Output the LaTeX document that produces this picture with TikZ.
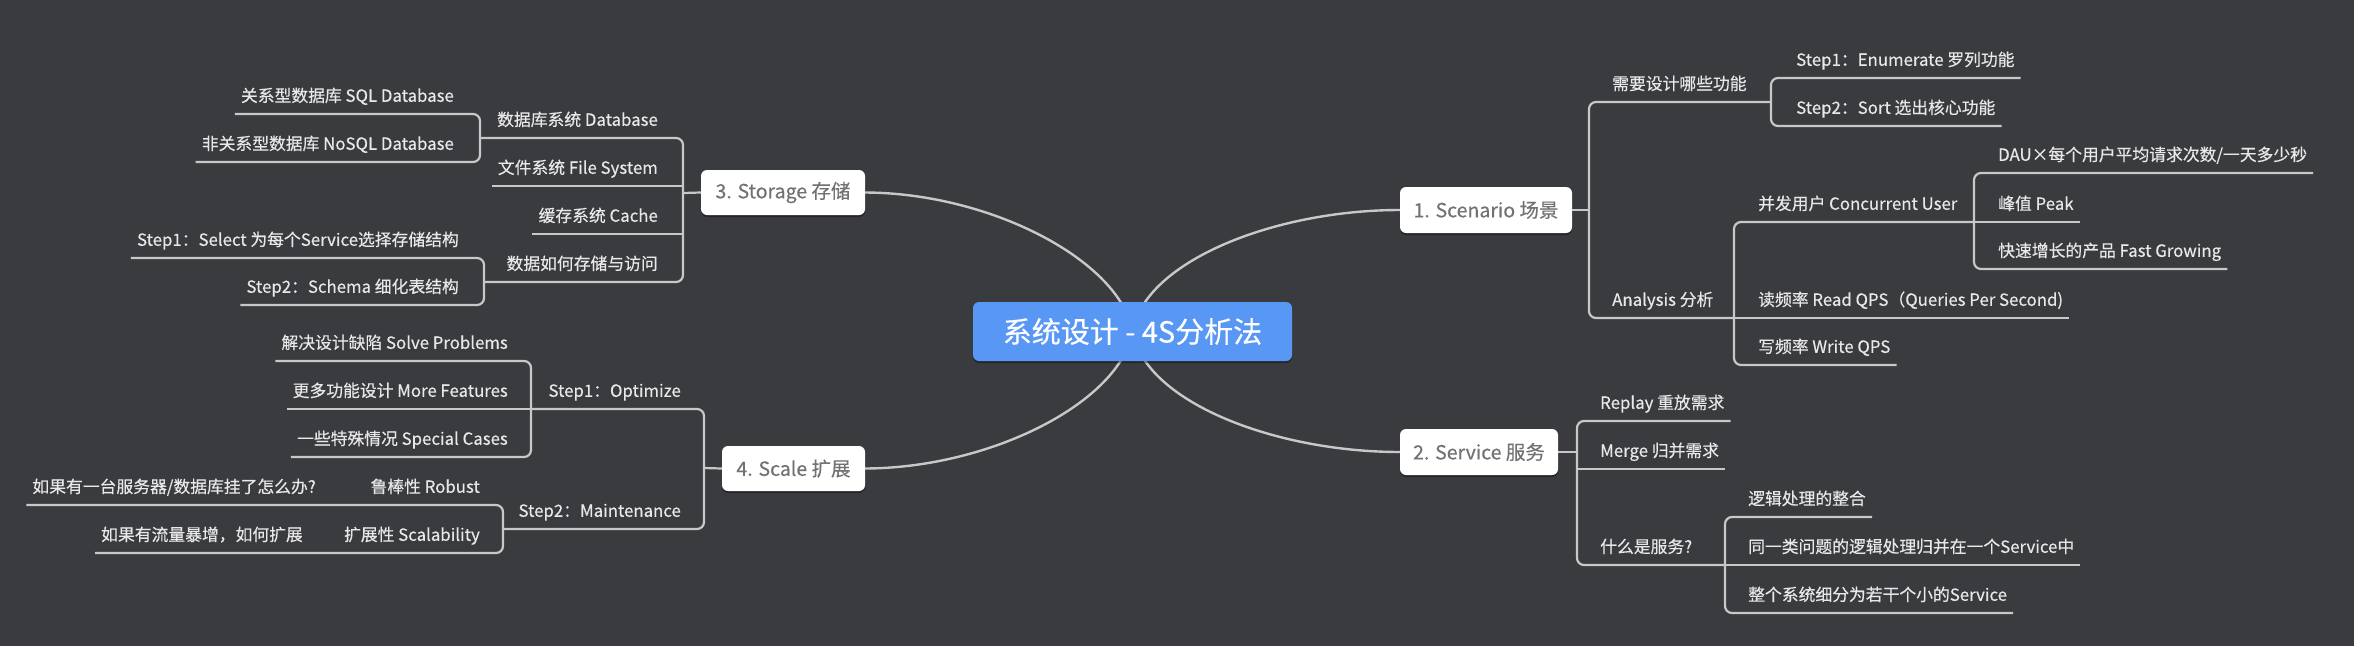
\documentclass[tikz,border=0pt]{standalone}
\usepackage{fontspec}
\setmainfont{Noto Sans CJK SC}[FakeBold=0.35]
\usetikzlibrary{shadows,backgrounds}
\definecolor{bgc}{HTML}{3A3B3F}
\definecolor{lnc}{HTML}{C8C8C8}
\definecolor{txc}{HTML}{E8E8E8}
\definecolor{ctrc}{HTML}{5897F3}
\definecolor{topc}{HTML}{727272}
\begin{document}
\begin{tikzpicture}[x=1pt,y=-1pt,
  conn/.style={draw=lnc, line width=2.2pt, rounded corners=7pt},
  curve/.style={draw=lnc, line width=2.4pt},
  lbl/.style={text=txc, font=\fontsize{16.8}{20}\selectfont, inner xsep=6pt, inner ysep=8pt, text height=14pt, text depth=4pt},
  rlbl/.style={lbl, anchor=south west},
  llbl/.style={lbl, anchor=south east},
  mainnode/.style={fill=ctrc, rounded corners=6pt, text=white, font=\fontsize{29}{32}\selectfont, minimum width=319pt, minimum height=59pt, inner sep=0pt, drop shadow={shadow xshift=0pt, shadow yshift=-2pt, opacity=0.35, fill=black}},
  topic/.style={fill=white, rounded corners=6pt, text=topc, font=\fontsize{19.5}{22}\selectfont, minimum height=46pt, inner sep=0pt, drop shadow={shadow xshift=0pt, shadow yshift=-2pt, opacity=0.35, fill=black}}
]
\useasboundingbox (0,0) rectangle (2354,646);

% central and main topics
\node[mainnode] (c) at (1132.5,331.5) {系统设计 - 4S分析法};
\node[topic, minimum width=172pt] (s1) at (1486,210) {1. Scenario 场景};
\node[topic, minimum width=158pt] (s2) at (1479,452) {2. Service 服务};
\node[topic, minimum width=164pt, minimum height=45pt] (s3) at (783,192.5) {3. Storage 存储};
\node[topic, minimum width=143pt, minimum height=45pt] (s4) at (793.5,468.5) {4. Scale 扩展};

\begin{pgfonlayer}{background}
\fill[bgc] (0,0) rectangle (2354,646);
\draw[curve] (c.center) .. controls (1120,261) and (991,193) .. (s3.east);
\draw[curve] (c.center) .. controls (1120,402) and (991,468) .. (s4.east);
\draw[curve] (c.center) .. controls (1145,261) and (1275,210) .. (s1.west);
\draw[curve] (c.center) .. controls (1145,402) and (1275,452) .. (s2.west);
\end{pgfonlayer}

% ---------- 1. Scenario ----------
\coordinate (k1) at (1589,210);
\coordinate (k11) at (1771,102);
\coordinate (k12) at (1734,318);
\coordinate (k121) at (1974,222);
\node[rlbl] (a1) at (1606,102) {需要设计哪些功能};
\node[rlbl] (a2) at (1606,318) {Analysis 分析};
\node[rlbl] (a11) at (1790,78) {Step1：Enumerate 罗列功能};
\node[rlbl] (a12) at (1790,126) {Step2：Sort 选出核心功能};
\node[rlbl] (a21) at (1752,222) {并发用户 Concurrent User};
\node[rlbl] (a22) at (1752,318) {读频率 Read QPS（Queries Per Second)};
\node[rlbl] (a23) at (1752,365) {写频率 Write QPS};
\node[rlbl] (a211) at (1992,173) {DAU×每个用户平均请求次数/一天多少秒};
\node[rlbl] (a212) at (1992,222) {峰值 Peak};
\node[rlbl] (a213) at (1992,269) {快速增长的产品 Fast Growing};

\draw[conn] (s1.east) -- (k1);
\draw[conn] (k11) -- (k11 -| k1) -- (k12 -| k1) -- (k12);
\draw[conn] (a11.south east) -- (a11.south -| k11) -- (a12.south -| k11) -- (a12.south east);
\draw[conn] (k121) -- (a21.south -| k12) -- (a23.south -| k12) -- (a23.south east);
\draw[conn] (k12) -- (a22.south east);
\draw[conn] (a211.south east) -- (a211.south -| k121) -- (a213.south -| k121) -- (a213.south east);
\draw[conn] (k121) -- (a212.south east);

% ---------- 2. Service ----------
\coordinate (k2) at (1577,452);
\coordinate (k23) at (1725,565);
\node[rlbl] (b1) at (1594,421) {Replay 重放需求};
\node[rlbl] (b2) at (1594,469) {Merge 归并需求};
\node[rlbl] (b3) at (1594,565) {什么是服务?};
\node[rlbl] (b31) at (1742,517) {逻辑处理的整合};
\node[rlbl] (b32) at (1742,565) {同一类问题的逻辑处理归并在一个Service中};
\node[rlbl] (b33) at (1742,613) {整个系统细分为若干个小的Service};

\draw[conn] (s2.east) -- (k2);
\draw[conn] (b1.south east) -- (b1.south -| k2) -- (k23 -| k2) -- (k23);
\draw[conn] (k2 |- b2.south) -- (b2.south east);
\draw[conn] (b31.south east) -- (b31.south -| k23) -- (b33.south -| k23) -- (b33.south east);
\draw[conn] (k23) -- (b32.south east);

% ---------- 3. Storage ----------
\coordinate (k3) at (683,193);
\coordinate (k31) at (480,138);
\coordinate (k34) at (484,282);
\node[llbl] (e1) at (664,138) {数据库系统 Database};
\node[llbl] (e2) at (664,186) {文件系统 File System};
\node[llbl] (e3) at (664,234) {缓存系统 Cache};
\node[llbl] (e4) at (664,282) {数据如何存储与访问};
\node[llbl] (e11) at (460,114) {关系型数据库 SQL Database};
\node[llbl] (e12) at (460,162) {非关系型数据库 NoSQL Database};
\node[llbl] (e41) at (465,258) {Step1：Select 为每个Service选择存储结构};
\node[llbl] (e42) at (465,305) {Step2：Schema 细化表结构};

\draw[conn] (s3.west) -- (k3);
\draw[conn] (k31) -- (k31 -| k3) -- (k34 -| k3) -- (k34);
\draw[conn] (k3 |- e2.south) -- (e2.south west);
\draw[conn] (k3 |- e3.south) -- (e3.south west);
\draw[conn] (e11.south west) -- (e11.south -| k31) -- (e12.south -| k31) -- (e12.south west);
\draw[conn] (e41.south west) -- (e41.south -| k34) -- (e42.south -| k34) -- (e42.south west);

% ---------- 4. Scale ----------
\coordinate (k4) at (704,468);
\coordinate (k41) at (531,409);
\coordinate (k42) at (503,529);
\node[llbl] (d1) at (687,409) {Step1：Optimize};
\node[llbl] (d2) at (687,529) {Step2：Maintenance};
\node[llbl] (d11) at (514,361) {解决设计缺陷 Solve Problems};
\node[llbl] (d12) at (514,409) {更多功能设计 More Features};
\node[llbl] (d13) at (514,457) {一些特殊情况 Special Cases};
\node[llbl] (d21) at (486,505) {鲁棒性 Robust};
\node[llbl] (d22) at (486,553) {扩展性 Scalability};
\node[llbl] (d211) at (322,505) {如果有一台服务器/数据库挂了怎么办?};
\node[llbl] (d221) at (309,553) {如果有流量暴增，如何扩展};

\draw[conn] (s4.west) -- (k4);
\draw[conn] (k41) -- (k41 -| k4) -- (k42 -| k4) -- (k42);
\draw[conn] (d11.south west) -- (d11.south -| k41) -- (d13.south -| k41) -- (d13.south west);
\draw[conn] (k41) -- (d12.south west);
\draw[conn] (d211.south west) -- (d211.south east) -- (d21.south west) -- (d21.south -| k42) -- (d22.south -| k42) -- (d22.south west) -- (d221.south east) -- (d221.south west);
\end{tikzpicture}
\end{document}
